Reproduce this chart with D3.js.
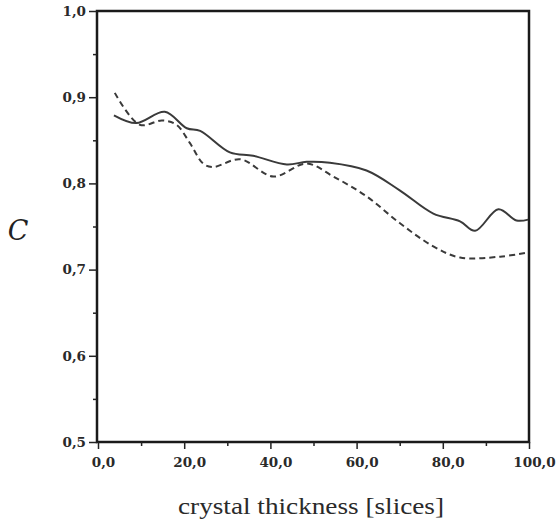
<!DOCTYPE html>
<html>
<head>
<meta charset="utf-8">
<script src="https://cdn.jsdelivr.net/npm/d3@7"></script>
<style>
  body { margin: 0; background: #fff; }
  svg { display: block; }
</style>
</head>
<body>
<svg width="558" height="527"></svg>
<script>
// thickness (slices) and C values
const solidX = [3.7, 8.9, 15.5, 20.6, 23.7, 30.6, 36, 43.8, 48.4, 53.8, 62.3, 70, 77.8, 84, 87.5, 92.9, 97.1, 99.8];
const solidY = [0.879, 0.870, 0.883, 0.864, 0.861, 0.836, 0.832, 0.822, 0.825, 0.824, 0.815, 0.792, 0.765, 0.756, 0.745, 0.770, 0.757, 0.758];
const dashX = [3.9, 9.7, 14.9, 18.2, 21.3, 24.4, 26.7, 33, 40.7, 48.4, 54.6, 62.3, 70, 77.8, 84, 93.3, 99.8];
const dashY = [0.905, 0.868, 0.873, 0.868, 0.847, 0.823, 0.819, 0.828, 0.808, 0.823, 0.808, 0.785, 0.754, 0.727, 0.714, 0.715, 0.720];
const xTicks = [0, 20, 40, 60, 80, 100];
const yTicks = [0.5, 0.6, 0.7, 0.8, 0.9, 1.0];

const svg = d3.select('svg');
const plotL = 97, plotR = 529, plotT = 11, plotB = 442;

const x = d3.scaleLinear().domain([0, 100]).range([plotL + 1, plotR]);
const y = d3.scaleLinear().domain([0.5, 1.0]).range([plotB, plotT]);
const fmt = v => d3.format('.1f')(v).replace('.', ',');

// frame
svg.append('rect')
  .attr('x', plotL).attr('y', plotT)
  .attr('width', plotR - plotL).attr('height', plotB - plotT)
  .attr('fill', 'none').attr('stroke', '#1a1a1a').attr('stroke-width', 2.5);

// x axis
const xAxis = svg.append('g').attr('transform', `translate(0,${plotB})`);
xAxis.append('g').call(d3.axisBottom(x).tickValues(d3.range(10, 100, 20)).tickSize(4).tickFormat(''));
xAxis.append('g').call(d3.axisBottom(x).tickValues(xTicks).tickSize(7).tickPadding(8).tickFormat(fmt));
xAxis.selectAll('.domain').remove();
xAxis.selectAll('.tick text').attr('dx', 5);

// y axis
const yAxis = svg.append('g').attr('transform', `translate(${plotL},0)`);
yAxis.append('g').call(d3.axisLeft(y).tickValues(d3.range(0.55, 1.0, 0.1)).tickSize(4).tickFormat(''));
yAxis.append('g').call(d3.axisLeft(y).tickValues(yTicks).tickSize(8).tickPadding(3).tickFormat(fmt));
yAxis.selectAll('.domain').remove();

svg.selectAll('.tick line').attr('stroke', '#222').attr('stroke-width', 1.5);
svg.selectAll('.tick text')
  .attr('fill', '#2a2a2a')
  .style('font-family', '"DejaVu Serif", serif')
  .style('font-weight', 'bold')
  .style('font-size', '13.5px');

// lines
const line = d3.line()
  .x(d => x(d[0]))
  .y(d => y(d[1]))
  .curve(d3.curveCatmullRom.alpha(0.5));

svg.append('path')
  .datum(solidX.map((v, i) => [v, solidY[i]]))
  .attr('d', line)
  .attr('fill', 'none').attr('stroke', '#3a3a3a').attr('stroke-width', 2);

svg.append('path')
  .datum(dashX.map((v, i) => [v, dashY[i]]))
  .attr('d', line)
  .attr('fill', 'none').attr('stroke', '#3a3a3a').attr('stroke-width', 2)
  .attr('stroke-dasharray', '6,4');

// titles
svg.append('text')
  .attr('x', 178).attr('y', 514)
  .attr('textLength', 266).attr('lengthAdjust', 'spacingAndGlyphs')
  .style('font-family', '"Liberation Serif", serif')
  .style('font-size', '23px')
  .attr('fill', '#2a2a2a')
  .text('crystal thickness [slices]');

svg.append('text')
  .attr('x', 18).attr('y', 240)
  .attr('text-anchor', 'middle')
  .style('font-family', '"DejaVu Serif", serif')
  .style('font-style', 'italic')
  .style('font-size', '27px')
  .attr('fill', '#222')
  .text('C');
</script>
</body>
</html>
